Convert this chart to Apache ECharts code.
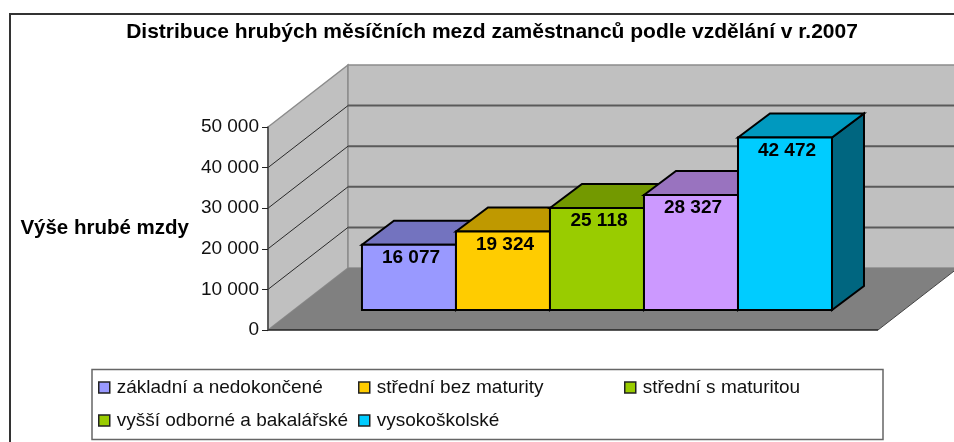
<!DOCTYPE html>
<html>
<head>
<meta charset="utf-8">
<script src="https://cdn.jsdelivr.net/npm/echarts@6/dist/echarts.min.js"></script>
<style>
html, body { margin: 0; padding: 0; background: #fff; }
#chart { width: 954px; height: 442px; }
</style>
</head>
<body>
<div id="chart"></div>
<script>
const categories = ['základní a nedokončené', 'střední bez maturity', 'střední s maturitou', 'vyšší odborné a bakalářské', 'vysokoškolské'];
const wages = [16077, 19324, 25118, 28327, 42472];
const wageLabels = ['16 077', '19 324', '25 118', '28 327', '42 472'];
const yTicks = [0, 10000, 20000, 30000, 40000, 50000];

const frontColors = ['#9999FF', '#FFCC00', '#99CC00', '#CC99FF', '#00CCFF'];
const topColors = ['#7373BF', '#BF9900', '#739900', '#9973BF', '#0099BF'];
const sideColors = ['#4D4D80', '#806600', '#4D6600', '#664D80', '#006680'];
// the legend swatch of the 4th item is green in the original, not purple
const legendColors = ['#9999FF', '#FFCC00', '#99CC00', '#99CC00', '#00CCFF'];

// fake 3D offsets, px
const floor = { dx: 80, dy: -62 };
const barShift = { dx: 26, dy: -20 };
const barDepth = { dx: 32, dy: -24 };
const font = '"Liberation Sans", Arial, sans-serif';

function poly(points, fill, stroke, width) {
  return {
    type: 'polygon',
    shape: { points: points },
    style: { fill: fill, stroke: stroke, lineWidth: width, lineJoin: 'miter' }
  };
}

function line(a, b, stroke, width) {
  return {
    type: 'line',
    shape: { x1: a[0], y1: a[1], x2: b[0], y2: b[1] },
    style: { stroke: stroke, lineWidth: width }
  };
}

function renderWalls(params, api) {
  const a = api.coord([api.value(0), 0]);
  const b = api.coord([api.value(1), 50000]);
  const fx = floor.dx, fy = floor.dy;
  const kids = [
    poly([[a[0], a[1]], [a[0], b[1]], [a[0] + fx, b[1] + fy], [a[0] + fx, a[1] + fy]], '#C0C0C0', '#8C8C8C', 1.5),
    poly([[a[0] + fx, b[1] + fy], [b[0] + fx, b[1] + fy], [b[0] + fx, a[1] + fy], [a[0] + fx, a[1] + fy]], '#C0C0C0', '#8C8C8C', 1.5)
  ];
  yTicks.slice(1, -1).forEach(function (t) {
    const y = api.coord([0, t])[1];
    kids.push(line([a[0], y], [a[0] + fx, y + fy], '#2A2A2A', 1));
    kids.push(line([a[0] + fx, y + fy], [b[0] + fx, y + fy], '#5A5A5A', 2));
  });
  kids.push(poly([[a[0], a[1]], [b[0], a[1]], [b[0] + fx, a[1] + fy], [a[0] + fx, a[1] + fy]], '#808080', null, 0));
  kids.push(line([a[0], a[1]], [b[0], a[1]], '#222222', 1.5));
  kids.push(line([b[0], a[1]], [b[0] + fx, a[1] + fy], '#444444', 1));
  return { type: 'group', children: kids };
}

function renderBar(params, api) {
  const i = api.value(0);
  const p0 = api.coord([i, 0]);
  const p1 = api.coord([i + 1, api.value(1)]);
  const x0 = p0[0] + barShift.dx, x1 = p1[0] + barShift.dx;
  const y0 = p0[1] + barShift.dy, y1 = p1[1] + barShift.dy;
  const dx = barDepth.dx, dy = barDepth.dy;
  return {
    type: 'group',
    children: [
      poly([[x1, y1], [x1 + dx, y1 + dy], [x1 + dx, y0 + dy], [x1, y0]], sideColors[i], '#000', 2),
      poly([[x0, y1], [x0 + dx, y1 + dy], [x1 + dx, y1 + dy], [x1, y1]], topColors[i], '#000', 2),
      poly([[x0, y0], [x0, y1], [x1, y1], [x1, y0]], frontColors[i], '#000', 2),
      {
        type: 'text',
        z2: 10,
        style: {
          x: (x0 + x1) / 2 + 2,
          y: y1 + 13,
          text: wageLabels[i],
          fill: '#000',
          font: 'bold 19px ' + font,
          align: 'center',
          verticalAlign: 'middle'
        }
      }
    ]
  };
}

function legendColumn(left, indexes) {
  return {
    left: left,
    top: 378,
    orient: 'vertical',
    data: indexes.map(function (i) {
      return { name: categories[i], itemStyle: { color: legendColors[i] } };
    }),
    selectedMode: false,
    icon: 'rect',
    itemWidth: 11,
    itemHeight: 11,
    itemGap: 14,
    padding: 0,
    itemStyle: { borderColor: '#222', borderWidth: 1.5 },
    textStyle: { color: '#111', fontFamily: font, fontSize: 19, padding: [0, 0, 0, 2] }
  };
}

const barSeries = categories.map(function (name, i) {
  return {
    type: 'custom',
    name: name,
    renderItem: renderBar,
    clip: false,
    encode: { x: 0, y: 1 },
    itemStyle: { color: frontColors[i] },
    data: [[i, wages[i]]],
    z: 3
  };
});

const chart = echarts.init(document.getElementById('chart'), null, { renderer: 'canvas' });
chart.setOption({
  animation: false,
  backgroundColor: '#fff',
  title: {
    text: 'Distribuce hrubých měsíčních mezd zaměstnanců podle vzdělání v r.2007',
    left: 492,
    textAlign: 'center',
    top: 22,
    padding: 0,
    textStyle: { color: '#000', fontFamily: font, fontWeight: 'bold', fontSize: 21 }
  },
  grid: { left: 268, right: 76, top: 127, bottom: 112 },
  xAxis: { type: 'value', min: -0.723, max: 5.766, show: false },
  yAxis: {
    type: 'value',
    min: 0,
    max: 50000,
    interval: 10000,
    z: 2,
    name: 'Výše hrubé mzdy',
    nameLocation: 'middle',
    nameRotate: 0,
    nameGap: 79,
    nameTextStyle: { color: '#000', fontFamily: font, fontWeight: 'bold', fontSize: 20.5 },
    axisLine: { show: true, onZero: false, lineStyle: { color: '#444', width: 1.5 } },
    axisTick: { show: true, length: 6, lineStyle: { color: '#222', width: 1 } },
    splitLine: { show: false },
    axisLabel: {
      color: '#111',
      fontFamily: font,
      fontSize: 19,
      margin: 9,
      formatter: function (v) { return String(v).replace(/\B(?=(\d{3})+$)/g, ' '); }
    }
  },
  legend: [
    legendColumn(98, [0, 3]),
    legendColumn(358, [1, 4]),
    legendColumn(624, [2])
  ],
  series: [{
    type: 'custom',
    name: 'walls',
    renderItem: renderWalls,
    clip: false,
    silent: true,
    encode: { x: [0, 1] },
    data: [[-0.723, 5.766]],
    z: 1
  }].concat(barSeries),
  graphic: [
    {
      type: 'polyline',
      silent: true,
      shape: { points: [[10, 442], [10, 14], [954, 14]] },
      style: { stroke: '#333', lineWidth: 2, fill: null }
    },
    {
      type: 'rect',
      silent: true,
      shape: { x: 92, y: 369.5, width: 791, height: 70 },
      style: { stroke: '#666', lineWidth: 1.5, fill: null }
    }
  ]
});
</script>
</body>
</html>
